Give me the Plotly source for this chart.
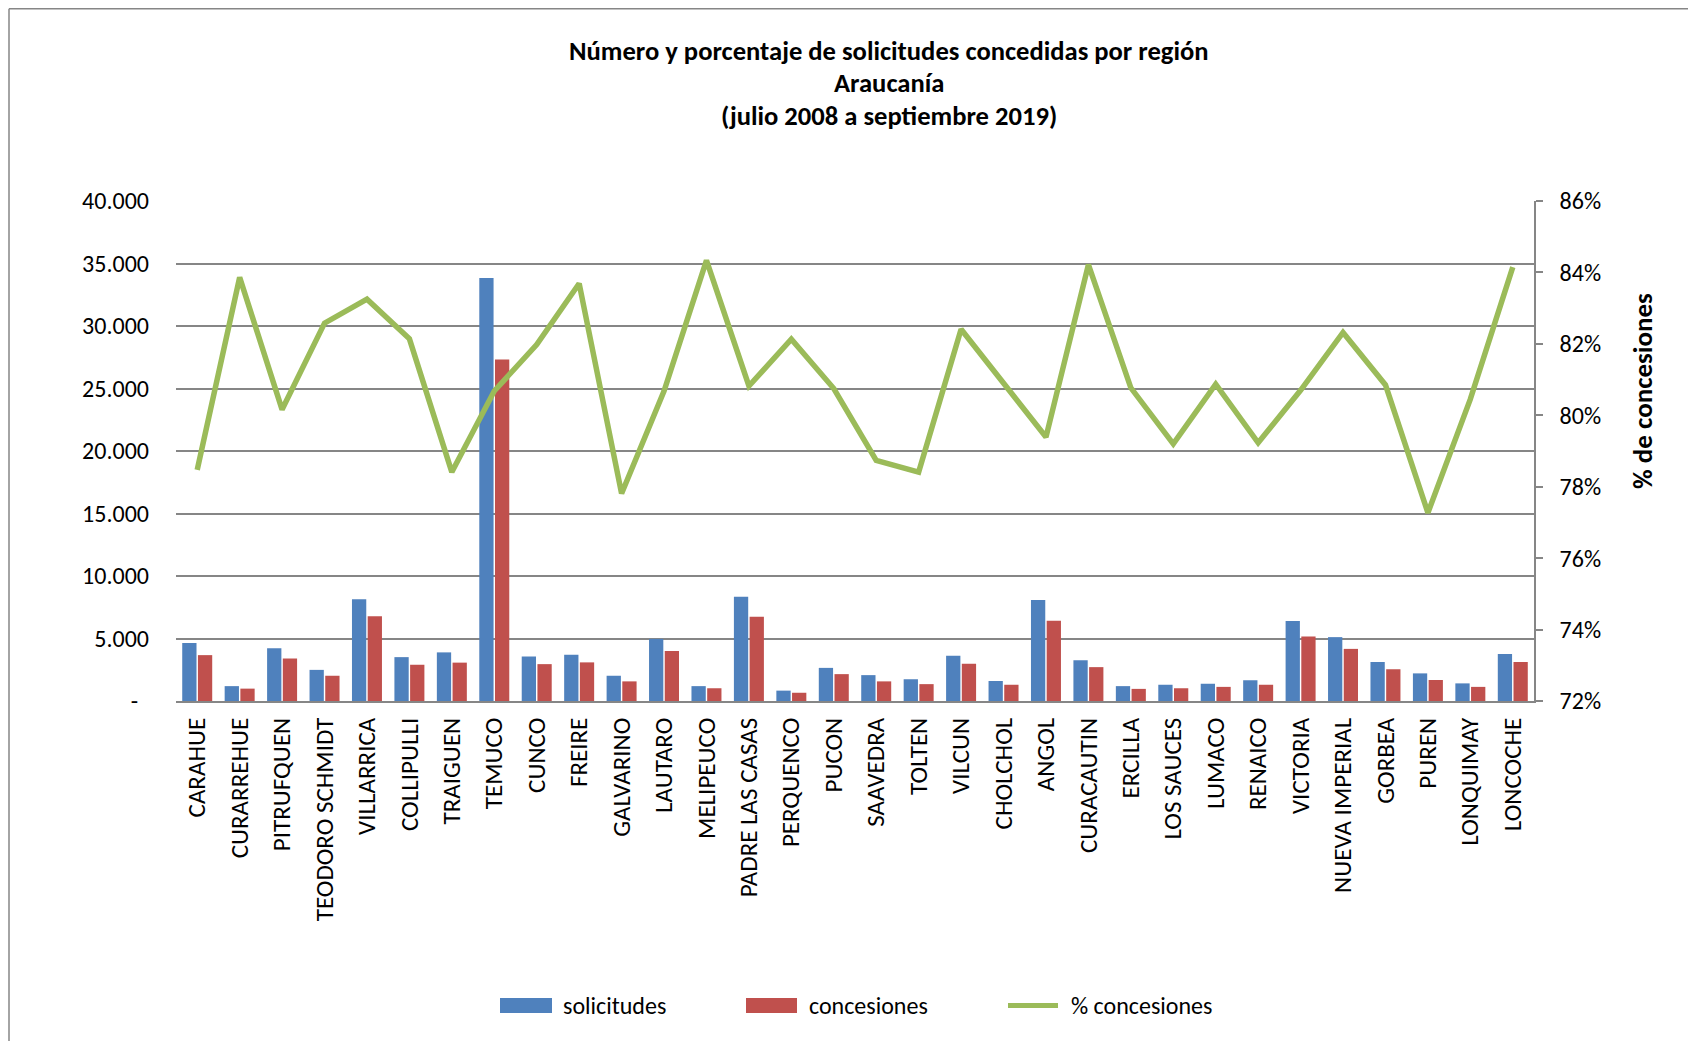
import plotly.graph_objects as go

# --- data ---
comunas = [
    "CARAHUE", "CURARREHUE", "PITRUFQUEN", "TEODORO SCHMIDT", "VILLARRICA",
    "COLLIPULLI", "TRAIGUEN", "TEMUCO", "CUNCO", "FREIRE", "GALVARINO",
    "LAUTARO", "MELIPEUCO", "PADRE LAS CASAS", "PERQUENCO", "PUCON",
    "SAAVEDRA", "TOLTEN", "VILCUN", "CHOLCHOL", "ANGOL", "CURACAUTIN",
    "ERCILLA", "LOS SAUCES", "LUMACO", "RENAICO", "VICTORIA",
    "NUEVA IMPERIAL", "GORBEA", "PUREN", "LONQUIMAY", "LONCOCHE",
]
solicitudes = [
    4640, 1190, 4220, 2490, 8150, 3510, 3890, 33850, 3560, 3700, 2020,
    4970, 1190, 8340, 830, 2650, 2070, 1740, 3620, 1600, 8090, 3260,
    1190, 1300, 1380, 1660, 6400, 5110, 3120, 2210, 1410, 3760,
]
concesiones = [
    3670, 990, 3400, 2020, 6790, 2900, 3070, 27330, 2950, 3090, 1570,
    4000, 1020, 6740, 660, 2150, 1570, 1350, 2980, 1300, 6430, 2710,
    970, 1020, 1130, 1300, 5160, 4170, 2540, 1680, 1130, 3120,
]
pct_concesiones = [
    78.47, 83.86, 80.16, 82.58, 83.25, 82.14, 78.41, 80.68, 81.98, 83.69,
    77.81, 80.68, 84.34, 80.82, 82.13, 80.75, 78.74, 78.41, 82.41, 80.9,
    79.39, 84.22, 80.77, 79.20, 80.87, 79.23, 80.7, 82.32, 80.85, 77.27,
    80.45, 84.15,
]
left_ticks = [0, 5000, 10000, 15000, 20000, 25000, 30000, 35000, 40000]
left_labels = ["-\u00a0\u00a0", "5.000", "10.000", "15.000", "20.000",
               "25.000", "30.000", "35.000", "40.000"]

BLUE = "#4F81BD"
RED = "#C0504D"
GREEN = "#9BBB59"
GRID = "#868686"
FONT = "Carlito, Calibri, Lato, sans-serif"

# figure sits 8px in from the page corner (body margin)
W_PX, H_PX = 1688, 1033
L, R, T, B = 168, 1526, 193, 693


def px_x(p):
    return (p - L) / (R - L)


def px_y(p):
    return (B - p) / (B - T)


fig = go.Figure()
fig.add_trace(go.Bar(x=comunas, y=solicitudes, name="solicitudes",
                     marker=dict(color=BLUE, line=dict(width=0))))
fig.add_trace(go.Bar(x=comunas, y=concesiones, name="concesiones",
                     marker=dict(color=RED, line=dict(width=0))))
fig.add_trace(go.Scatter(x=comunas, y=pct_concesiones, name="% concesiones",
                         yaxis="y2", mode="lines",
                         line=dict(color=GREEN, width=5.5)))

shapes = [
    # chart frame (top and left edges visible)
    dict(type="line", xref="paper", yref="paper", x0=px_x(1), x1=px_x(1720),
         y0=px_y(0.8), y1=px_y(0.8), line=dict(color=GRID, width=1.5)),
    dict(type="line", xref="paper", yref="paper", x0=px_x(1), x1=px_x(1),
         y0=px_y(0.8), y1=px_y(1060), line=dict(color=GRID, width=1.5)),
    # legend swatches
    dict(type="rect", xref="paper", yref="paper", x0=px_x(492), x1=px_x(544),
         y0=px_y(990), y1=px_y(1005), fillcolor=BLUE, line=dict(width=0)),
    dict(type="rect", xref="paper", yref="paper", x0=px_x(738), x1=px_x(789),
         y0=px_y(990), y1=px_y(1005), fillcolor=RED, line=dict(width=0)),
    dict(type="line", xref="paper", yref="paper", x0=px_x(1000), x1=px_x(1050),
         y0=px_y(997.5), y1=px_y(997.5), line=dict(color=GREEN, width=5)),
]

title_lines = [
    ("Número y porcentaje de solicitudes concedidas por región", 43),
    ("Araucanía", 75),
    ("(julio 2008 a septiembre 2019)", 108),
]
annotations = [
    dict(text=f"<b>{txt}</b>", xref="paper", yref="paper", x=px_x(881),
         y=px_y(yy), xanchor="center", yanchor="middle", showarrow=False,
         font=dict(size=26.6, color="black", family=FONT))
    for txt, yy in title_lines
]
annotations.append(
    dict(text="<b>% de concesiones</b>", xref="paper", yref="paper",
         x=px_x(1634), y=px_y(383), xanchor="center", yanchor="middle",
         textangle=-90, showarrow=False,
         font=dict(size=27, color="black", family=FONT))
)
for txt, xx in [("solicitudes", 553), ("concesiones", 799), ("% concesiones", 1061)]:
    annotations.append(
        dict(text=txt, xref="paper", yref="paper", x=px_x(xx), y=px_y(997),
             xanchor="left", yanchor="middle", showarrow=False,
             font=dict(size=24, color="black", family=FONT))
    )

fig.update_layout(
    width=W_PX, height=H_PX,
    margin=dict(l=L, r=W_PX - R, t=T, b=H_PX - B, autoexpand=False),
    paper_bgcolor="white", plot_bgcolor="white",
    font=dict(family=FONT, size=24, color="black"),
    barmode="group", bargap=0.26, bargroupgap=0.09,
    showlegend=False,
    xaxis=dict(type="category", tickangle=-90, showline=True,
               linecolor=GRID, linewidth=1.5, showgrid=False, ticks="",
               ticklabelstandoff=5, tickfont=dict(size=25)),
    yaxis=dict(range=[0, 40000], tickvals=left_ticks, ticktext=left_labels,
               showgrid=True, gridcolor=GRID, gridwidth=1.5, zeroline=False,
               showline=False, ticks="", ticklabelstandoff=26,
               tickfont=dict(size=24)),
    yaxis2=dict(range=[72, 86], dtick=2, ticksuffix="%", overlaying="y",
                side="right", showgrid=False, zeroline=False, showline=True,
                linecolor=GRID, linewidth=1.5, ticks="outside", ticklen=7,
                tickcolor=GRID, tickwidth=1.5, ticklabelstandoff=12,
                tickfont=dict(size=24)),
    shapes=shapes,
    annotations=annotations,
)

fig.write_html("out.html")
